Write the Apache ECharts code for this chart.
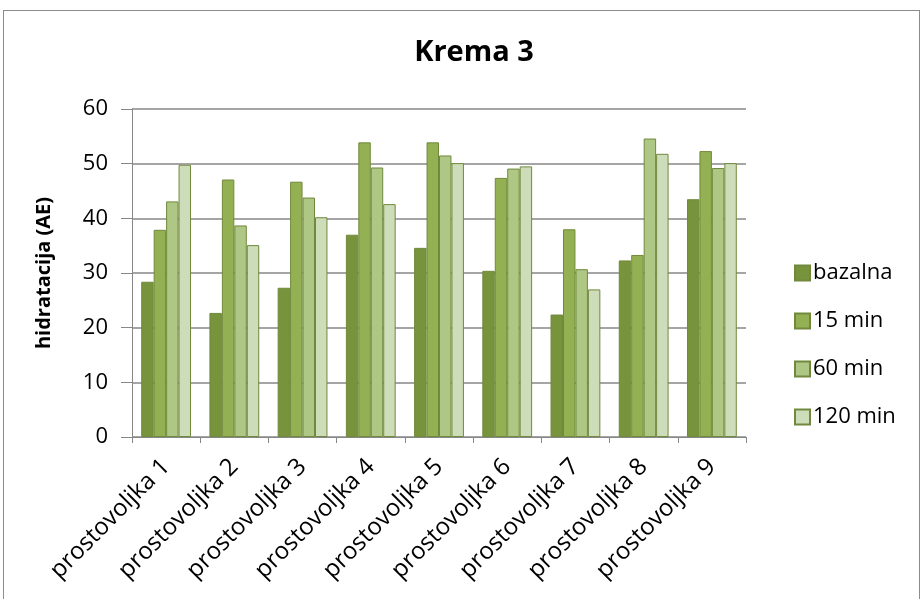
<!DOCTYPE html>
<html>
<head>
<meta charset="utf-8">
<script src="https://cdn.jsdelivr.net/npm/echarts@6/dist/echarts.min.js"></script>
<style>
html,body{margin:0;padding:0;background:#fff;}
#frame{position:absolute;left:3px;top:10px;width:917px;height:600px;border:1px solid #8c8c8c;box-sizing:border-box;}
#chart{position:absolute;left:0;top:0;width:923px;height:599px;}
</style>
</head>
<body>
<div id="frame"></div>
<div id="chart"></div>
<script>
const categories = ['prostovoljka 1','prostovoljka 2','prostovoljka 3','prostovoljka 4','prostovoljka 5','prostovoljka 6','prostovoljka 7','prostovoljka 8','prostovoljka 9'];
const seriesNames = ['bazalna','15 min','60 min','120 min'];
const bazalna = [28.4, 22.7, 27.3, 37.0, 34.6, 30.4, 22.4, 32.3, 43.5];
const min15  = [37.9, 47.1, 46.7, 53.9, 53.9, 47.4, 38.0, 33.3, 52.3];
const min60  = [43.1, 38.7, 43.8, 49.3, 51.5, 49.1, 30.7, 54.6, 49.2];
const min120 = [49.8, 35.1, 40.2, 42.6, 50.1, 49.5, 27.0, 51.8, 50.1];
const yTicks = [0, 10, 20, 30, 40, 50, 60];

const colors = ['#77933C', '#93B153', '#AEC785', '#CEDDB9'];
const borderColor = '#71893C';
const font = '"Open Sans", "Noto Sans", sans-serif';

const chart = echarts.init(document.getElementById('chart'), null, {renderer: 'canvas'});
const dataSets = [bazalna, min15, min60, min120];

chart.setOption({
  animation: false,
  backgroundColor: 'transparent',
  title: {
    text: 'Krema 3',
    left: 469, top: 33, textAlign: 'center',
    textStyle: {fontFamily: font, fontSize: 29, fontWeight: 'bold', color: '#000'}
  },
  legend: {
    orient: 'vertical',
    left: 789, top: 257,
    itemWidth: 15, itemHeight: 15, itemGap: 26,
    icon: 'rect',
    textStyle: {fontFamily: font, fontSize: 22, lineHeight: 22, color: '#000', padding: [0,0,0,-2]},
    data: seriesNames
  },
  grid: {left: 132, right: 177, top: 109, bottom: 162},
  xAxis: {
    type: 'category',
    data: categories,
    axisLine: {lineStyle: {color: '#878787', width: 1}},
    axisTick: {show: true, length: 6, lineStyle: {color: '#878787'}},
    axisLabel: {rotate: 45, fontFamily: font, fontSize: 24, color: '#000', margin: 26, interval: 0}
  },
  yAxis: {
    type: 'value',
    min: 0, max: 60, interval: 10,
    name: 'hidratacija (AE)',
    nameLocation: 'middle',
    nameGap: 78,
    nameTextStyle: {fontFamily: font, fontSize: 20, fontWeight: 'bold', color: '#000'},
    axisLine: {show: true, lineStyle: {color: '#878787'}},
    axisTick: {show: true, inside: false, length: 11, lineStyle: {color: '#878787'}},
    axisLabel: {fontFamily: font, fontSize: 22, color: '#000', margin: 24,
      formatter: v => yTicks.includes(v) ? String(v) : ''},
    splitLine: {lineStyle: {color: '#878787', width: 1.5}}
  },
  series: dataSets.map((d, i) => ({
    name: seriesNames[i],
    type: 'bar',
    data: d,
    barGap: '0%',
    barCategoryGap: '27%',
    itemStyle: {color: colors[i], borderColor: borderColor, borderWidth: 1}
  }))
});
</script>
</body>
</html>
